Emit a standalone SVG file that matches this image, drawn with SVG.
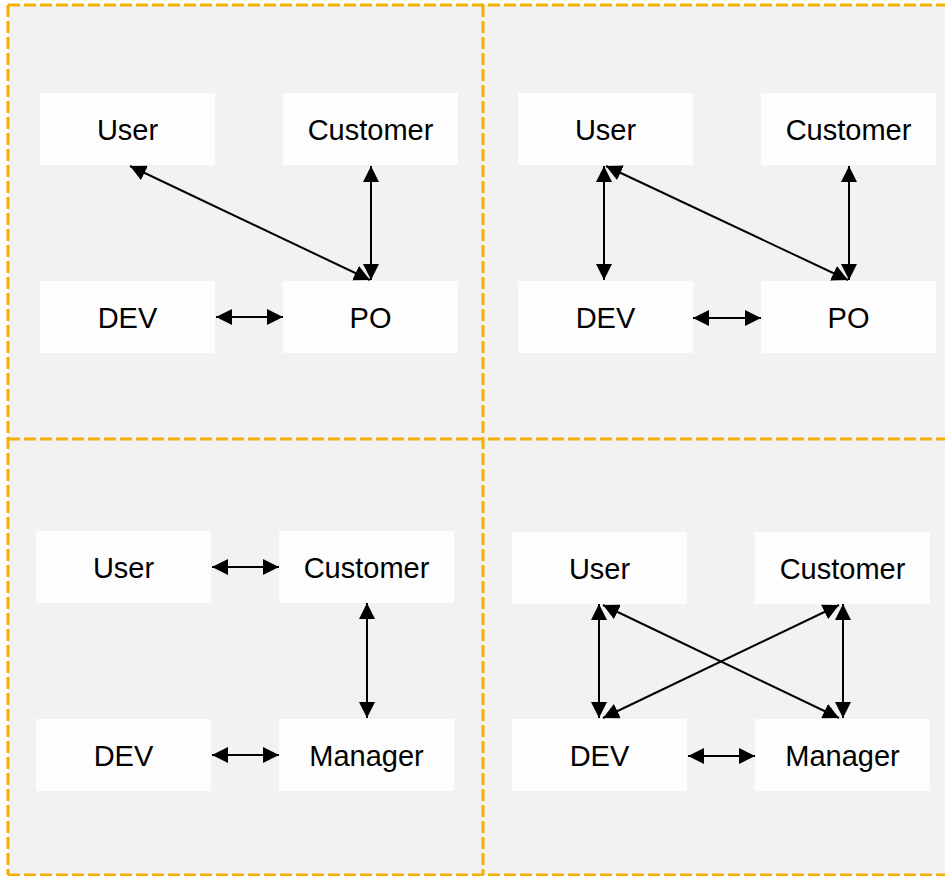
<svg xmlns="http://www.w3.org/2000/svg" width="945" height="876" viewBox="0 0 945 876">
<style>
.bg{fill:#F2F2F2}
.frame{fill:none;stroke:#F4B000;stroke-width:3;stroke-dasharray:12 4}
.box{fill:#FDFDFD}
.lbl{font-family:"Liberation Sans",Arial,sans-serif;font-size:29px;fill:#000;text-anchor:middle}
.c{stroke:#000;stroke-width:2;fill:none;marker-start:url(#ah);marker-end:url(#ah)}
</style>
<defs>
<marker id="ah" markerUnits="userSpaceOnUse" markerWidth="16" markerHeight="16" refX="16" refY="8" orient="auto-start-reverse" viewBox="0 0 16 16">
<path d="M0,0 L16,8 L0,16 z" fill="#000"/>
</marker>
</defs>
<rect width="945" height="876" fill="#FFFFFF"/>
<rect class="bg" x="8" y="5" width="940" height="870"/>
<g id="frame">
<line class="frame" x1="8" y1="5" x2="948" y2="5"/>
<line class="frame" x1="8" y1="875" x2="948" y2="875"/>
<line class="frame" x1="8" y1="5" x2="8" y2="875"/>
<line class="frame" x1="483" y1="5" x2="483" y2="875"/>
<line class="frame" x1="8" y1="439" x2="948" y2="439"/>
</g>
<!-- top-left -->
<g id="tl-user"><rect class="box" x="40" y="93" width="175" height="72"/><text class="lbl" x="127.5" y="140">User</text></g>
<g id="tl-customer"><rect class="box" x="283" y="93" width="175" height="72"/><text class="lbl" x="370.5" y="140">Customer</text></g>
<g id="tl-dev"><rect class="box" x="40" y="281" width="175" height="72"/><text class="lbl" x="127.5" y="328">DEV</text></g>
<g id="tl-po"><rect class="box" x="283" y="281" width="175" height="72"/><text class="lbl" x="370.5" y="328">PO</text></g>
<!-- top-right -->
<g id="tr-user"><rect class="box" x="518" y="93" width="175" height="72"/><text class="lbl" x="605.5" y="140">User</text></g>
<g id="tr-customer"><rect class="box" x="761" y="93" width="175" height="72"/><text class="lbl" x="848.5" y="140">Customer</text></g>
<g id="tr-dev"><rect class="box" x="518" y="281" width="175" height="72"/><text class="lbl" x="605.5" y="328">DEV</text></g>
<g id="tr-po"><rect class="box" x="761" y="281" width="175" height="72"/><text class="lbl" x="848.5" y="328">PO</text></g>
<!-- bottom-left -->
<g id="bl-user"><rect class="box" x="36" y="531" width="175" height="72"/><text class="lbl" x="123.5" y="578">User</text></g>
<g id="bl-customer"><rect class="box" x="279" y="531" width="175" height="72"/><text class="lbl" x="366.5" y="578">Customer</text></g>
<g id="bl-dev"><rect class="box" x="36" y="719" width="175" height="72"/><text class="lbl" x="123.5" y="766">DEV</text></g>
<g id="bl-manager"><rect class="box" x="279" y="719" width="175" height="72"/><text class="lbl" x="366.5" y="766">Manager</text></g>
<!-- bottom-right -->
<g id="br-user"><rect class="box" x="512" y="532" width="175" height="72"/><text class="lbl" x="599.5" y="579">User</text></g>
<g id="br-customer"><rect class="box" x="755" y="532" width="175" height="72"/><text class="lbl" x="842.5" y="579">Customer</text></g>
<g id="br-dev"><rect class="box" x="512" y="719" width="175" height="72"/><text class="lbl" x="599.5" y="766">DEV</text></g>
<g id="br-manager"><rect class="box" x="755" y="719" width="175" height="72"/><text class="lbl" x="842.5" y="766">Manager</text></g>
<g id="connectors">
<line class="c" x1="130" y1="166" x2="370" y2="280"/>
<line class="c" x1="371" y1="166" x2="371" y2="280"/>
<line class="c" x1="216" y1="317" x2="283" y2="317"/>
<line class="c" x1="604" y1="166" x2="604" y2="280"/>
<line class="c" x1="606" y1="166" x2="848" y2="280"/>
<line class="c" x1="849" y1="166" x2="849" y2="280"/>
<line class="c" x1="693" y1="318" x2="761" y2="318"/>
<line class="c" x1="212" y1="567" x2="279" y2="567"/>
<line class="c" x1="367" y1="603" x2="367" y2="718"/>
<line class="c" x1="212" y1="755" x2="279" y2="755"/>
<line class="c" x1="599" y1="604" x2="599" y2="718"/>
<line class="c" x1="843" y1="604" x2="843" y2="718"/>
<line class="c" x1="603" y1="605" x2="839" y2="718"/>
<line class="c" x1="839" y1="605" x2="603" y2="718"/>
<line class="c" x1="688" y1="756" x2="755" y2="756"/>
</g>
</svg>
